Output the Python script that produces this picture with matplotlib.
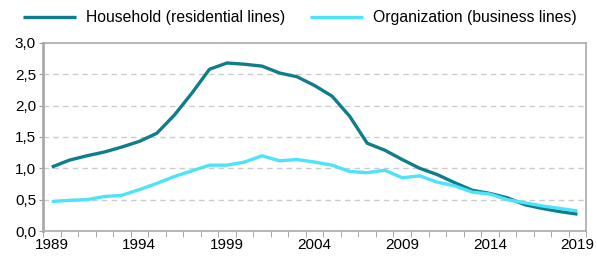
import matplotlib.pyplot as plt
import numpy as np

plt.rcParams['font.family'] = ['Liberation Sans', 'DejaVu Sans']

years = list(range(1989, 2020))
household = [1.02, 1.13, 1.20, 1.26, 1.34, 1.43, 1.56, 1.85, 2.20, 2.58,
             2.68, 2.66, 2.63, 2.52, 2.46, 2.32, 2.15, 1.83, 1.40, 1.29,
             1.14, 1.00, 0.90, 0.77, 0.65, 0.60, 0.53, 0.42, 0.36, 0.31, 0.27]
organization = [0.47, 0.49, 0.50, 0.55, 0.57, 0.66, 0.76, 0.87, 0.96, 1.05,
                1.05, 1.10, 1.20, 1.12, 1.14, 1.10, 1.05, 0.95, 0.93, 0.97,
                0.85, 0.88, 0.78, 0.72, 0.62, 0.59, 0.50, 0.45, 0.40, 0.36, 0.32]
year_labels = [1989, 1994, 1999, 2004, 2009, 2014, 2019]

fig = plt.figure(figsize=(5.97, 2.57), dpi=100)
ax = fig.add_axes([0.072, 0.101, 0.910, 0.732])

ax.plot(years, household, color='#0F7D8A', lw=2.4, solid_capstyle='butt',
        label='Household (residential lines)')
ax.plot(years, organization, color='#4DE3FB', lw=2.4, solid_capstyle='butt',
        label='Organization (business lines)')

ax.set_xlim(1988.5, 2019.5)
ax.set_ylim(0, 3.0)
ax.set_yticks(np.arange(0, 3.01, 0.5))
ax.set_yticklabels([f'{v:.1f}'.replace('.', ',') for v in np.arange(0, 3.01, 0.5)])
ax.set_xticks(year_labels)
ax.set_xticks(np.arange(1988.5, 2020, 1), minor=True)
ax.tick_params(axis='x', which='major', length=0, labelsize=11, pad=5)
ax.tick_params(axis='x', which='minor', length=4, color='#999999', direction='out')
ax.tick_params(axis='y', length=3, color='#999999', labelsize=11, direction='out', pad=2)

for v in np.arange(0.5, 3.0, 0.5):
    ax.axhline(v, color='#CCCCCC', lw=1, ls=(0, (4, 3)), zorder=0)

for s in ['top', 'right']:
    ax.spines[s].set_color('#AAAAAA')
    ax.spines[s].set_linewidth(1.2)
ax.spines['left'].set_color('#AAAAAA')
ax.spines['left'].set_linewidth(2)
ax.spines['bottom'].set_color('#AAAAAA')
ax.spines['bottom'].set_linewidth(1.2)

fig.legend(loc='center left', bbox_to_anchor=(0.025, 0.93), ncol=2, frameon=False,
           fontsize=11.3, handlelength=3.4, handletextpad=0.6, columnspacing=1.6,
           borderpad=0)

fig.savefig('out.png', dpi=100)
